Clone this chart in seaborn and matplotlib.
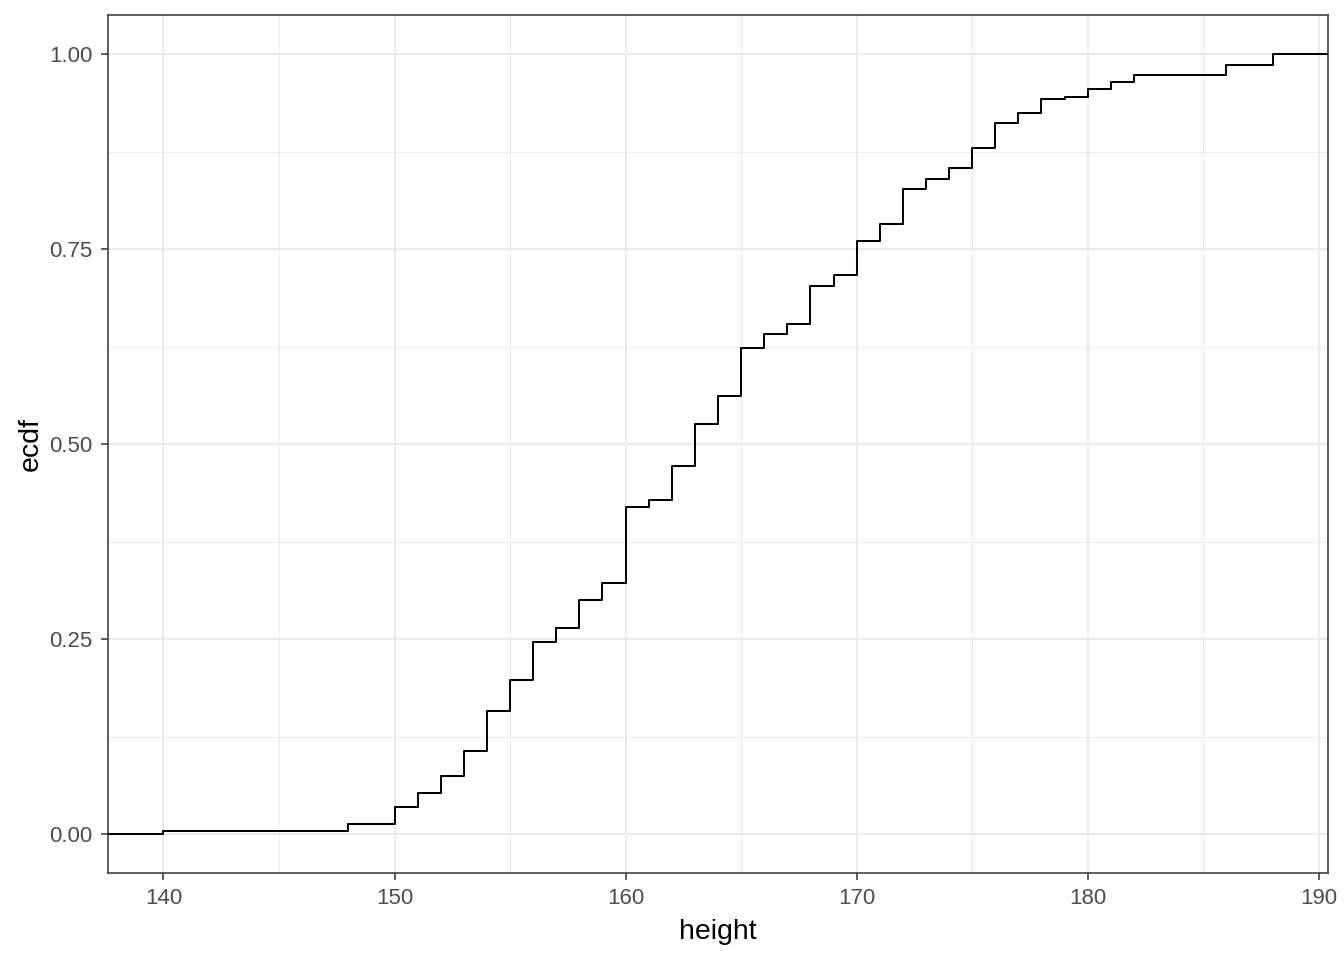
import numpy as np
import pandas as pd
import matplotlib
matplotlib.use("Agg")
import matplotlib.pyplot as plt
import seaborn as sns
from matplotlib.ticker import FixedLocator, FormatStrFormatter

# Heights observed and the share (%) of observations at each height,
# read from the jumps of the reference ECDF
heights = [140, 148, 150, 151, 152, 153, 154, 155, 156, 157, 158, 159,
           160, 161, 162, 163, 164, 165, 166, 167, 168, 169, 170, 171,
           172, 173, 174, 175, 176, 177, 178, 179, 180, 181, 182, 186, 188]
shares = [0.33, 0.90, 2.18, 1.79, 2.18, 3.20, 5.22, 4.00, 4.87, 1.80, 3.58, 2.18,
          9.70, 0.94, 4.31, 5.42, 3.53, 6.19, 1.79, 1.29, 4.86, 1.39, 4.38, 2.17,
          4.45, 1.35, 1.37, 2.56, 3.21, 1.28, 1.79, 0.34, 0.94, 0.95, 0.81, 1.36, 1.39]

x_major = [140, 150, 160, 170, 180, 190]
x_minor = [145, 155, 165, 175, 185]
y_major = [0.0, 0.25, 0.50, 0.75, 1.00]
y_minor = [0.125, 0.375, 0.625, 0.875]

sns.set_theme(style="white")
plt.rcParams['font.family'] = ['Liberation Sans', 'DejaVu Sans']

W, H = 1344, 960
fig = plt.figure(figsize=(W / 100, H / 100), dpi=100)
left, right, top, bottom = 108, 1328, 15, 873
ax = fig.add_axes([left / W, 1 - bottom / H, (right - left) / W, (bottom - top) / H])

df = pd.DataFrame({"height": heights, "share": shares})
sns.ecdfplot(data=df, x="height", weights="share", ax=ax, color="black",
             linewidth=1.45, zorder=3)

# data range plus 5% expansion like the reference
span = max(heights) - min(heights)
xlo, xhi = min(heights) - 0.05 * span, max(heights) + 0.05 * span
ax.set_xlim(xlo, xhi)
ax.set_ylim(-0.05, 1.05)

# extend the step line to the panel edges (as ggplot's stat_ecdf pad does)
line = ax.lines[0]
xd, yd = line.get_data()
xd = np.asarray(xd, dtype=float)
yd = np.asarray(yd, dtype=float)
m = np.isfinite(xd) & np.isfinite(yd)
xd, yd = xd[m], yd[m]
line.set_data(np.r_[xlo, xd, xhi], np.r_[0.0, yd, yd[-1]])
line.set_drawstyle("steps-post")

ax.xaxis.set_major_locator(FixedLocator(x_major))
ax.xaxis.set_minor_locator(FixedLocator(x_minor))
ax.yaxis.set_major_locator(FixedLocator(y_major))
ax.yaxis.set_minor_locator(FixedLocator(y_minor))
ax.yaxis.set_major_formatter(FormatStrFormatter("%.2f"))
ax.xaxis.set_major_formatter(FormatStrFormatter("%d"))

ax.grid(which="major", color="#EBEBEB", linewidth=1.45, zorder=0)
ax.grid(which="minor", color="#EBEBEB", linewidth=0.75, zorder=0)
ax.set_axisbelow(True)

for s in ax.spines.values():
    s.set_color("#333333")
    s.set_linewidth(1.1)
    s.set_visible(True)

ax.tick_params(which="major", direction="out", length=5, width=1.1,
               color="#333333", labelcolor="#4D4D4D", labelsize=16, pad=6,
               bottom=True, left=True)
ax.tick_params(which="minor", length=0)

ax.set_xlabel("height", fontsize=20.5, color="black", labelpad=7)
ax.set_ylabel("ecdf", fontsize=20.5, color="black", labelpad=4)
ax.set_facecolor("white")
fig.patch.set_facecolor("white")

fig.savefig("out.png", dpi=100, facecolor="white")
